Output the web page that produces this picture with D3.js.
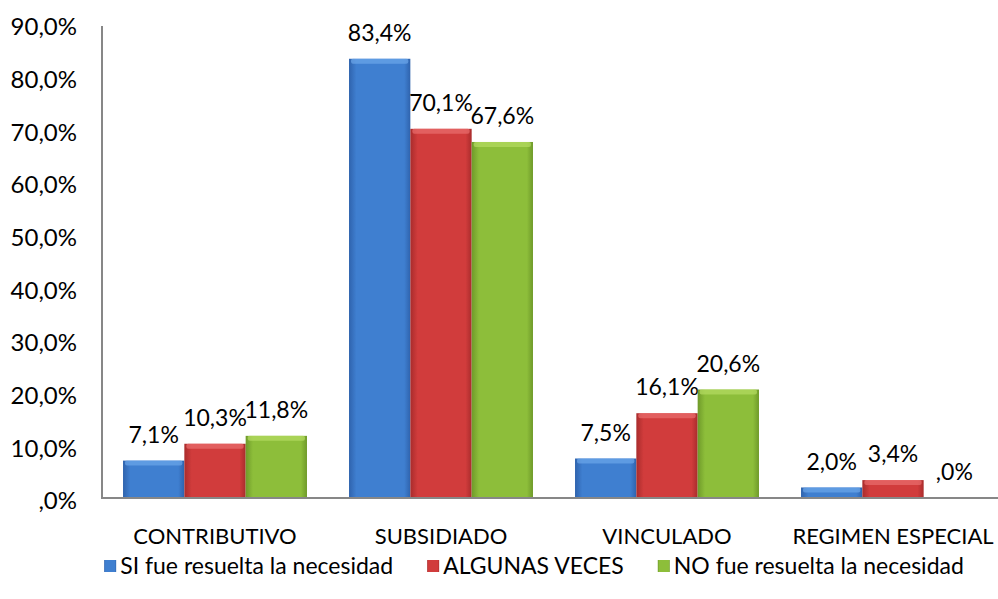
<!DOCTYPE html>
<html>
<head>
<meta charset="utf-8">
<script src="https://cdnjs.cloudflare.com/ajax/libs/d3/7.8.5/d3.min.js"></script>
<style>
  body { margin: 0; background: #fff; }
  text { font-family: Lato, "Open Sans", sans-serif; fill: #000; }
</style>
</head>
<body>
<div id="chart"></div>
<script>
// data
var categories = ["CONTRIBUTIVO", "SUBSIDIADO", "VINCULADO", "REGIMEN ESPECIAL"];
var seriesNames = ["SI fue resuelta la necesidad", "ALGUNAS VECES", "NO fue resuelta la necesidad"];
var siValues = [7.1, 83.4, 7.5, 2.0];
var algunasValues = [10.3, 70.1, 16.1, 3.4];
var noValues = [11.8, 67.6, 20.6, 0.0];
var yTicks = [0, 10, 20, 30, 40, 50, 60, 70, 80, 90];

var series = [siValues, algunasValues, noValues];
var palette = [
  {base: "#3f7fd0", light: "#6ca7ea", dark: "#2f63ad"},
  {base: "#d13c3c", light: "#ea6d6d", dark: "#a92c2c"},
  {base: "#8dbe3a", light: "#b5dc62", dark: "#6f9a2a"}
];

var width = 998, height = 599;
var svg = d3.select("#chart").append("svg")
    .attr("width", width)
    .attr("height", height);

var defs = svg.append("defs");
palette.forEach(function(c, i) {
  var g = defs.append("linearGradient").attr("id", "grad" + i)
      .attr("x1", "0%").attr("x2", "100%").attr("y1", "0%").attr("y2", "0%");
  g.append("stop").attr("offset", "0%").attr("stop-color", c.dark);
  g.append("stop").attr("offset", "12%").attr("stop-color", c.base);
  g.append("stop").attr("offset", "90%").attr("stop-color", c.base);
  g.append("stop").attr("offset", "100%").attr("stop-color", c.dark);
});

var x0 = d3.scaleBand().domain(categories).range([102, 1006]).paddingInner(0.186).paddingOuter(0.093);
var x1 = d3.scaleBand().domain(d3.range(series.length)).range([0, x0.bandwidth()]);
var y = d3.scaleLinear().domain([0, 90]).range([498, 24]);

var fmt = function(v) {
  var s = v.toFixed(1).replace(".", ",");
  return s.replace(/^0,/, ",") + "%";
};

// bars
var groups = svg.selectAll(".grp")
  .data(categories)
  .enter().append("g")
    .attr("class", "grp")
    .attr("transform", function(d) { return "translate(" + x0(d) + ",0)"; });

groups.each(function(cat, ci) {
  var g = d3.select(this);
  series.forEach(function(vals, si) {
    var v = vals[ci];
    var bx = x1(si), bw = x1.bandwidth();
    if (v > 0) {
      g.append("rect")
        .attr("x", bx).attr("y", y(v))
        .attr("width", bw).attr("height", y(0) - y(v))
        .attr("fill", "url(#grad" + si + ")");
      var capH = Math.min(5, y(0) - y(v));
      g.append("rect")
        .attr("x", bx + 2).attr("y", y(v))
        .attr("width", bw - 4).attr("height", capH)
        .attr("rx", 2)
        .attr("fill", palette[si].light)
        .attr("opacity", 0.7);
    }
    g.append("text")
      .attr("x", bx + bw / 2)
      .attr("y", y(v) - 26)
      .attr("dy", "0.35em")
      .attr("text-anchor", "middle")
      .style("font-size", "23px")
      .text(fmt(v));
  });
});

// axes
svg.append("line")
  .attr("x1", 102).attr("x2", 102)
  .attr("y1", 26).attr("y2", y(0))
  .attr("stroke", "#878787").attr("stroke-width", 2);
svg.append("line")
  .attr("x1", 101).attr("x2", 998)
  .attr("y1", y(0)).attr("y2", y(0))
  .attr("stroke", "#878787").attr("stroke-width", 2);

svg.selectAll(".ytick")
  .data(yTicks)
  .enter().append("text")
    .attr("class", "ytick")
    .attr("x", 77)
    .attr("y", function(d) { return y(d) + 3; })
    .attr("dy", "0.35em")
    .attr("text-anchor", "end")
    .style("font-size", "24px")
    .text(fmt);

svg.selectAll(".xlab")
  .data(categories)
  .enter().append("text")
    .attr("class", "xlab")
    .attr("x", function(d) { return x0(d) + x0.bandwidth() / 2; })
    .attr("y", 536)
    .attr("dy", "0.35em")
    .attr("text-anchor", "middle")
    .style("font-size", "22px")
    .text(function(d) { return d; });

// legend: laid out from measured text widths, centred
var legend = svg.append("g").attr("class", "legend");
var items = legend.selectAll(".leg")
  .data(seriesNames)
  .enter().append("g")
    .attr("class", "leg");
items.append("rect")
  .attr("x", 0).attr("y", -6)
  .attr("width", 12).attr("height", 12)
  .attr("fill", function(d, i) { return "url(#grad" + i + ")"; });
items.append("text")
  .attr("x", 16).attr("y", 0)
  .attr("dy", "0.35em")
  .style("font-size", "23px")
  .text(function(d) { return d; });

var gap = 34, cursor = 0;
items.each(function() {
  var it = d3.select(this);
  it.attr("transform", "translate(" + cursor + ",0)");
  cursor += 16 + it.select("text").node().getComputedTextLength() + gap;
});
var total = cursor - gap;
legend.attr("transform", "translate(" + (534 - total / 2) + ",566)");
</script>
</body>
</html>
